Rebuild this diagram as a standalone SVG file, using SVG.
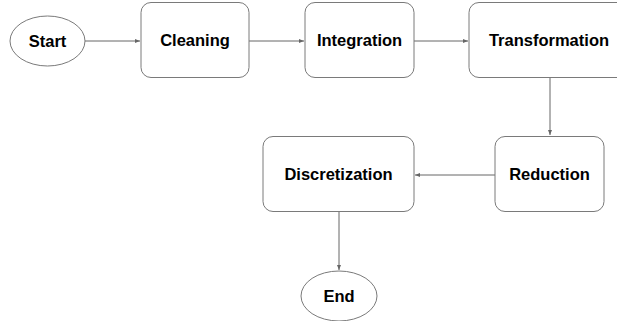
<svg xmlns="http://www.w3.org/2000/svg" width="617" height="321" viewBox="0 0 617 321">
<style>
.n{fill:#fff;stroke:#7a7a7a;stroke-width:1}
.t{font-family:"Liberation Sans",Arial,sans-serif;font-weight:bold;font-size:16.5px;fill:#000;text-anchor:middle;dominant-baseline:central}
.c{stroke:#666;stroke-width:1;fill:none;marker-end:url(#ah)}
</style>
<defs>
<marker id="ah" markerWidth="6" markerHeight="6" refX="5" refY="3" orient="auto" markerUnits="userSpaceOnUse">
<path d="M0,1 L5,3 L0,5 Z" fill="#666"/>
</marker>
</defs>
<rect width="617" height="321" fill="#fff"/>
<g id="connectors">
<line class="c" x1="85" y1="41" x2="140" y2="41"/>
<line class="c" x1="249" y1="41" x2="304" y2="41"/>
<line class="c" x1="414" y1="41" x2="468" y2="41"/>
<line class="c" x1="550" y1="77" x2="550" y2="135"/>
<line class="c" x1="495" y1="175" x2="415" y2="175"/>
<line class="c" x1="339" y1="212" x2="339" y2="270"/>
</g>
<g id="start"><ellipse class="n" cx="47.5" cy="41" rx="37.5" ry="25"/><text class="t" x="47.5" y="41">Start</text></g>
<g id="cleaning"><rect class="n" x="141" y="2.5" width="108" height="75" rx="10"/><text class="t" x="195" y="40">Cleaning</text></g>
<g id="integration"><rect class="n" x="305" y="2.5" width="109" height="75" rx="10"/><text class="t" x="359.5" y="40">Integration</text></g>
<g id="transformation"><rect class="n" x="469" y="2.5" width="160" height="75" rx="10"/><text class="t" x="549" y="40">Transformation</text></g>
<g id="reduction"><rect class="n" x="495" y="136.5" width="109" height="75" rx="10"/><text class="t" x="549.5" y="174">Reduction</text></g>
<g id="discretization"><rect class="n" x="263" y="136.5" width="151" height="75" rx="10"/><text class="t" x="338.5" y="174">Discretization</text></g>
<g id="end"><ellipse class="n" cx="339" cy="296" rx="38" ry="25"/><text class="t" x="339" y="296">End</text></g>
</svg>
